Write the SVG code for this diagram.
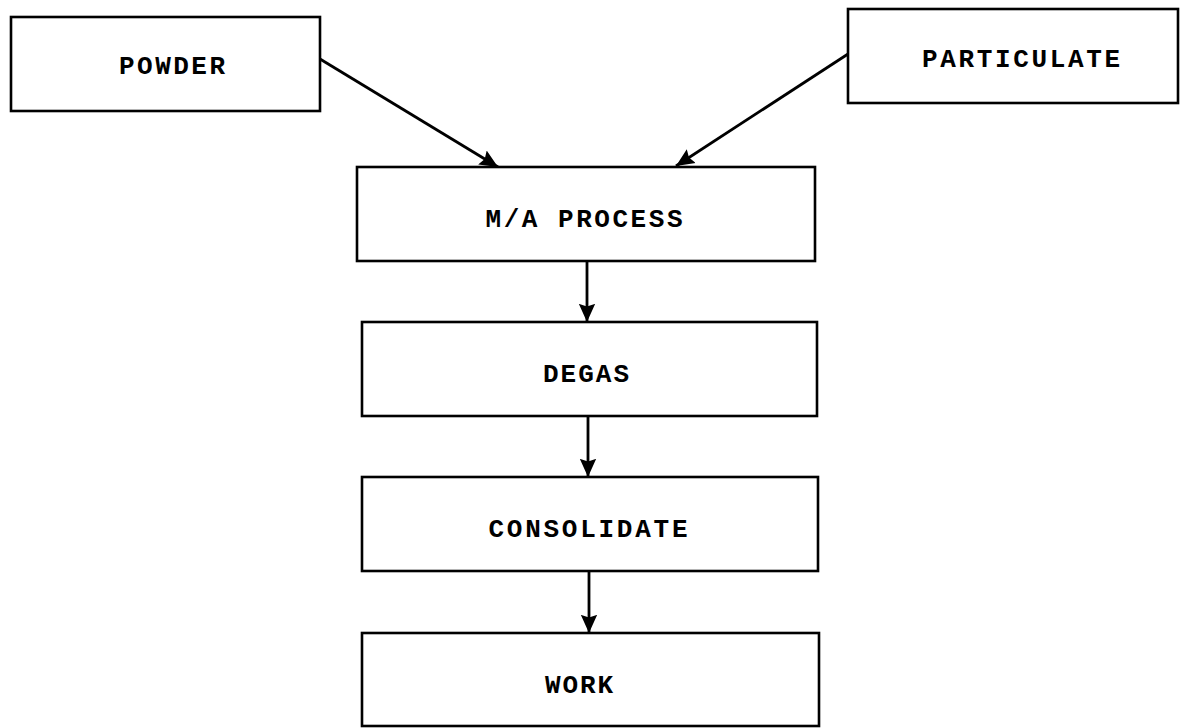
<svg xmlns="http://www.w3.org/2000/svg" width="1184" height="728" viewBox="0 0 1184 728">
<style>
.box{fill:#fff;stroke:#000;stroke-width:2.6}
.lbl{font-family:"Liberation Mono","Courier New",monospace;font-weight:bold;font-size:26px;fill:#000;text-anchor:middle}
.con{stroke:#000;stroke-width:2.8;fill:none;marker-end:url(#ah)}
</style>
<defs>
<marker id="ah" viewBox="0 0 10 10" refX="10" refY="5" markerWidth="6.5" markerHeight="6.5" markerUnits="strokeWidth" orient="auto">
<path d="M0,0.5 L10,5 L0,9.5 L1.5,5 Z" fill="#000"/>
</marker>
</defs>
<rect width="1184" height="728" fill="#fff"/>
<g id="connectors">
<line class="con" x1="320" y1="59" x2="498" y2="167"/>
<line class="con" x1="848" y1="54" x2="676" y2="166"/>
<line class="con" x1="587" y1="261" x2="587" y2="322"/>
<line class="con" x1="588" y1="416" x2="588" y2="477"/>
<line class="con" x1="589" y1="571" x2="589" y2="633"/>
</g>
<g id="powder">
<rect class="box" x="11" y="17" width="309" height="94"/>
<text class="lbl" x="172" y="74" textLength="106" lengthAdjust="spacing">POWDER</text>
</g>
<g id="particulate">
<rect class="box" x="848" y="9" width="330" height="94"/>
<text class="lbl" x="1021" y="67" textLength="198" lengthAdjust="spacing">PARTICULATE</text>
</g>
<g id="ma-process">
<rect class="box" x="357" y="167" width="458" height="94"/>
<text class="lbl" x="584" y="227" textLength="197" lengthAdjust="spacing">M/A PROCESS</text>
</g>
<g id="degas">
<rect class="box" x="362" y="322" width="455" height="94"/>
<text class="lbl" x="586" y="382" textLength="86" lengthAdjust="spacing">DEGAS</text>
</g>
<g id="consolidate">
<rect class="box" x="362" y="477" width="456" height="94"/>
<text class="lbl" x="588" y="537" textLength="199" lengthAdjust="spacing">CONSOLIDATE</text>
</g>
<g id="work">
<rect class="box" x="362" y="633" width="457" height="93"/>
<text class="lbl" x="579" y="693" textLength="68" lengthAdjust="spacing">WORK</text>
</g>
</svg>
